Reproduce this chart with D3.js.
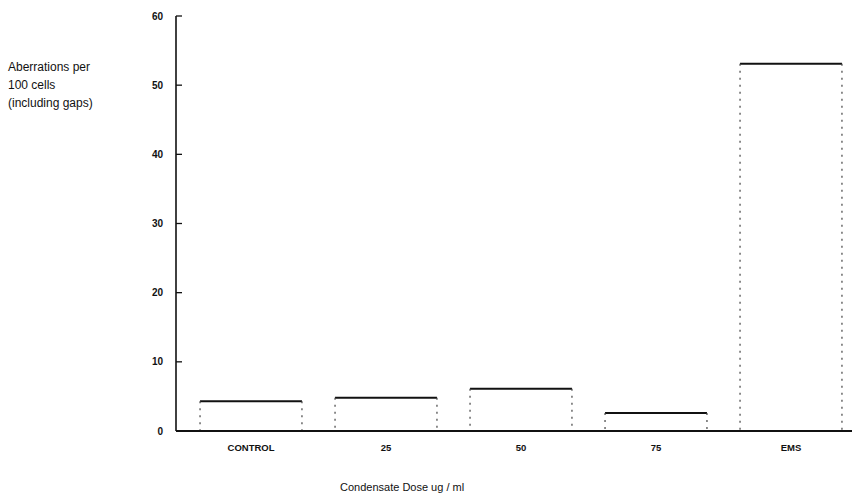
<!DOCTYPE html>
<html>
<head>
<meta charset="utf-8">
<script src="https://cdn.jsdelivr.net/npm/d3@7"></script>
<style>
  body { margin: 0; background: #fff; }
  svg text { font-family: "Liberation Sans", Arial, sans-serif; fill: #111; }
</style>
</head>
<body>
<svg id="chart" width="863" height="503"></svg>
<script>
// chart data
var categories = ["CONTROL", "25", "50", "75", "EMS"];
var aberrations = [4.3, 4.8, 6.1, 2.6, 53.1];
var yTicks = [0, 10, 20, 30, 40, 50, 60];
var yTitle = ["Aberrations per", "100 cells", "(including gaps)"];
var xTitle = "Condensate Dose ug / ml";

var svg = d3.select("#chart");

var x = d3.scaleBand()
  .domain(categories)
  .range([183.5, 858.5])
  .paddingInner(0.245)
  .paddingOuter(0.1225);

var y = d3.scaleLinear()
  .domain([0, 60])
  .range([431, 16]);

var axisX0 = 176;

// y axis: ticks point right, labels on the left
var yAxis = svg.append("g").attr("transform", "translate(" + axisX0 + ",0)");
yAxis.append("line")
  .attr("x1", 0).attr("x2", 0)
  .attr("y1", y(60)).attr("y2", y(0))
  .attr("stroke", "#111").attr("stroke-width", 1.6);
yAxis.selectAll("line.tick")
  .data(yTicks.filter(function(d) { return d > 0; }))
  .enter().append("line")
  .attr("class", "tick")
  .attr("x1", 0).attr("x2", 6)
  .attr("y1", function(d) { return y(d); })
  .attr("y2", function(d) { return y(d); })
  .attr("stroke", "#111").attr("stroke-width", 1.3);
yAxis.selectAll("text")
  .data(yTicks)
  .enter().append("text")
  .attr("x", -13)
  .attr("y", function(d) { return y(d); })
  .attr("dy", "0.35em")
  .attr("text-anchor", "end")
  .attr("font-size", 10)
  .attr("font-weight", "bold")
  .text(function(d) { return d; });

// bars: white boxes, solid top edge, faint dashed sides
var bars = svg.append("g");
var bar = bars.selectAll("g")
  .data(categories.map(function(c, i) { return {cat: c, v: aberrations[i]}; }))
  .enter().append("g");

bar.append("rect")
  .attr("x", function(d) { return x(d.cat); })
  .attr("y", function(d) { return y(d.v); })
  .attr("width", x.bandwidth())
  .attr("height", function(d) { return y(0) - y(d.v); })
  .attr("fill", "#fff");

bar.append("line")
  .attr("x1", function(d) { return x(d.cat); })
  .attr("x2", function(d) { return x(d.cat) + x.bandwidth(); })
  .attr("y1", function(d) { return y(d.v); })
  .attr("y2", function(d) { return y(d.v); })
  .attr("stroke", "#111").attr("stroke-width", 2);

bar.selectAll("line.side")
  .data(function(d) { return [{x: x(d.cat), v: d.v}, {x: x(d.cat) + x.bandwidth(), v: d.v}]; })
  .enter().append("line")
  .attr("class", "side")
  .attr("x1", function(d) { return d.x; })
  .attr("x2", function(d) { return d.x; })
  .attr("y1", function(d) { return y(d.v); })
  .attr("y2", y(0))
  .attr("stroke", "#444").attr("stroke-width", 1.2)
  .attr("stroke-dasharray", "2,5");

// x baseline
svg.append("line")
  .attr("x1", axisX0).attr("x2", 852)
  .attr("y1", y(0)).attr("y2", y(0))
  .attr("stroke", "#111").attr("stroke-width", 2.2);

// category labels
svg.append("g").selectAll("text")
  .data(categories)
  .enter().append("text")
  .attr("x", function(d) { return x(d) + x.bandwidth() / 2; })
  .attr("y", 451)
  .attr("text-anchor", "middle")
  .attr("font-size", 9.5)
  .attr("font-weight", "bold")
  .text(function(d) { return d; });

// axis titles
svg.append("g").selectAll("text")
  .data(yTitle)
  .enter().append("text")
  .attr("x", 8)
  .attr("y", function(d, i) { return 71 + i * 18; })
  .attr("font-size", 12)
  .text(function(d) { return d; });

svg.append("text")
  .attr("x", 340)
  .attr("y", 491)
  .attr("font-size", 11)
  .text(xTitle);
</script>
</body>
</html>
